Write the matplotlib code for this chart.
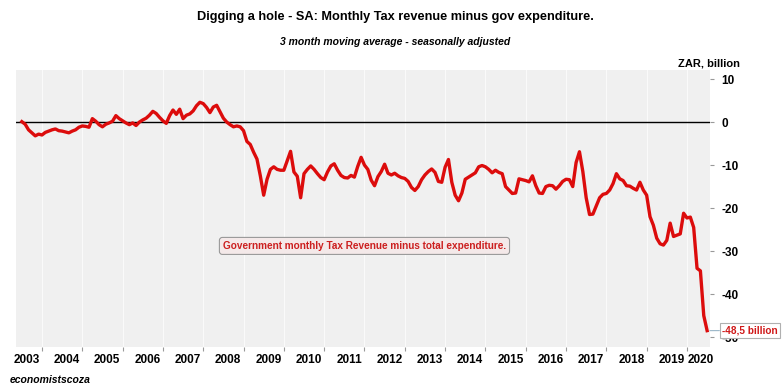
import matplotlib.pyplot as plt
import numpy as np

# monthly values, ZAR billion, 3m moving average, Jul 2003 onwards
start_year = 2003.5
balance = [
    0.1, -0.5, -1.8, -2.5, -3.2, -2.8,
    -3.0, -2.4, -2.1, -1.8, -1.6, -2.0, -2.1, -2.3, -2.5, -2.1, -1.8, -1.2,
    -0.9, -1.0, -1.2, 0.8, 0.2, -0.6, -1.1, -0.5, -0.2, 0.2, 1.5, 0.8,
    0.3, -0.2, -0.6, -0.2, -0.8, 0.0, 0.5, 0.9, 1.6, 2.5, 2.0, 1.1,
    0.3, -0.3, 1.5, 2.8, 1.8, 3.0, 0.8, 1.6, 1.9, 2.6, 3.8, 4.6,
    4.3, 3.4, 2.2, 3.5, 3.9, 2.4, 0.9, 0.0, -0.6, -1.1, -0.9, -1.1,
    -2.0, -4.5, -5.2, -7.0, -8.6, -12.5, -17.0, -13.3, -11.0, -10.4, -11.0, -11.2,
    -11.2, -9.0, -6.8, -11.6, -12.6, -17.6, -12.0, -11.0, -10.2, -11.0, -12.0, -12.9,
    -13.4, -11.6, -10.2, -9.7, -11.2, -12.4, -12.9, -13.0, -12.4, -12.8, -10.3, -8.2,
    -10.0, -11.0, -13.5, -14.8, -12.7, -11.5, -9.8, -11.9, -12.3, -11.9, -12.5, -12.9,
    -13.1, -13.8, -15.2, -15.9, -15.0, -13.4, -12.3, -11.5, -10.9, -11.7, -13.8, -14.0,
    -10.5, -8.7, -14.0, -17.0, -18.3, -16.5, -13.3, -12.8, -12.3, -11.8, -10.4, -10.1,
    -10.4, -11.0, -11.8, -11.2, -11.7, -12.0, -15.0, -15.8, -16.6, -16.5, -13.2, -13.4,
    -13.6, -13.9, -12.5, -14.8, -16.5, -16.6, -15.0, -14.7, -14.8, -15.6, -14.8, -13.8,
    -13.3, -13.4, -15.0, -9.4, -6.9, -11.5, -17.6, -21.5, -21.4, -19.5, -17.6, -16.8,
    -16.6, -15.8, -14.3, -12.0, -13.2, -13.6, -14.8, -14.9, -15.4, -15.8, -14.0, -15.8,
    -17.0, -22.0, -24.0, -27.0, -28.3, -28.6, -27.5, -23.5, -26.6, -26.3, -26.0, -21.2,
    -22.3, -22.1, -24.5, -34.0, -34.6, -45.0, -48.5,
]
years = list(range(2003, 2021))
year_labels = [str(y) for y in years]
y_ticks = [10, 0, -10, -20, -30, -40, -50]
last_label = "-48,5 billion"
note = "Government monthly Tax Revenue minus total expenditure."

plt.rcParams["font.family"] = ["Liberation Sans", "DejaVu Sans"]

t = start_year + np.arange(len(balance)) / 12.0

fig = plt.figure(figsize=(7.83, 3.87), dpi=100)
ax = fig.add_axes([0.0204, 0.1034, 0.8866, 0.7156])
ax.set_facecolor("#f0f0f0")

ax.axhline(0, color="black", lw=1.0, zorder=2)
ax.plot(t, balance, color="#dc0c0c", lw=2.4, solid_joinstyle="round", zorder=3)

ax.set_xlim(2003.355, 2020.576)
ax.set_ylim(-52.3, 12.1)

# year ticks at Jan, labels mid-year
ax.set_xticks(years[1:])
ax.set_xticklabels([])
label_pos = [y + 0.62 for y in years]
label_pos[-1] = 2020.33
ax.set_xticks(label_pos, minor=True)
ax.set_xticklabels(year_labels, minor=True, fontweight="bold", fontsize=8.5)
ax.tick_params(axis="x", which="major", length=3, color="#999999", direction="out")
ax.tick_params(axis="x", which="minor", length=0, pad=5)
ax.grid(axis="x", which="major", color="#fafafa", lw=0.8)

ax.yaxis.tick_right()
ax.set_yticks(y_ticks)
ax.set_yticklabels([str(v) for v in y_ticks], fontweight="bold", fontsize=8.5)
ax.tick_params(axis="y", length=3, color="#999999", pad=5)

for s in ax.spines.values():
    s.set_visible(False)

fig.text(0.505, 0.955, "Digging a hole - SA: Monthly Tax revenue minus gov expenditure.",
         ha="center", va="center", fontweight="bold", fontsize=9.2)
fig.text(0.505, 0.892, "3 month moving average - seasonally adjusted",
         ha="center", va="center", fontweight="bold", style="italic", fontsize=7.5)
fig.text(0.945, 0.837, "ZAR, billion", ha="right", va="center",
         fontweight="bold", fontsize=8)
fig.text(0.013, 0.018, "economistscoza", ha="left", va="center",
         fontweight="bold", style="italic", fontsize=7.5)

ax.text(2012.0, -28.8, note, ha="center", va="center", color="#cc1f1f",
        fontweight="bold", fontsize=7.2, zorder=4,
        bbox=dict(boxstyle="round,pad=0.35,rounding_size=0.3",
                  fc="#f4e9e9", ec="#9a9a9a", lw=0.8))

ax.annotate(last_label, xy=(t[-1], balance[-1]), xycoords="data",
            xytext=(0.9935, 0.146), textcoords="figure fraction",
            ha="right", va="center", color="#d01818", fontweight="bold",
            fontsize=7.2, zorder=5, annotation_clip=False,
            bbox=dict(boxstyle="square,pad=0.25", fc="white", ec="#b0b0b0", lw=0.8),
            arrowprops=dict(arrowstyle="-", color="#9ab6c8", lw=0.8,
                            shrinkA=0, shrinkB=2))

fig.savefig("out.png", dpi=100)
